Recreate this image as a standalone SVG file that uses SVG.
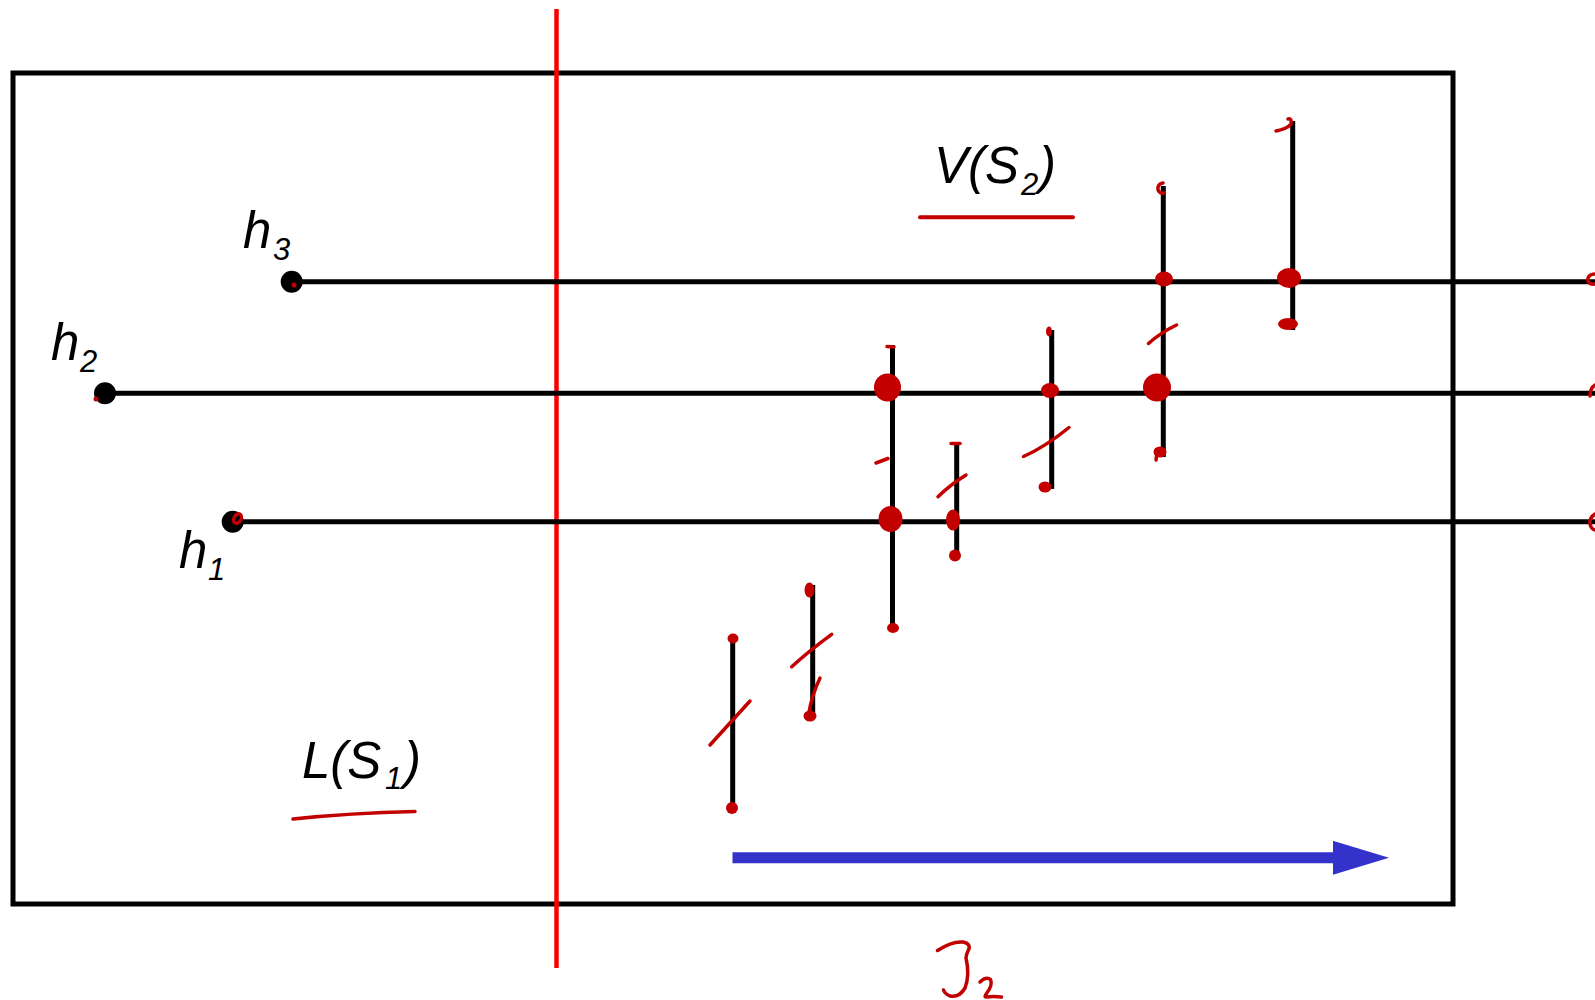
<svg xmlns="http://www.w3.org/2000/svg" width="1595" height="1000" viewBox="0 0 1595 1000">
<style>
.frame{fill:none;stroke:#000;stroke-width:5}
.ln{stroke:#000;stroke-width:5;fill:none}
.seg{stroke:#000;stroke-width:5;fill:none}
.ink{stroke:#C20000;stroke-width:3.5;fill:none;stroke-linecap:round;stroke-linejoin:round}
.blob{fill:#C20000}
.lbl{font-family:"Liberation Sans",Arial,sans-serif;font-style:italic;fill:#000}
.big{font-size:51px}
.sub{font-size:31px}
</style>
<defs>
<marker id="ah" markerWidth="56" markerHeight="34" refX="0" refY="17" orient="auto" markerUnits="userSpaceOnUse">
<path d="M0 0 L56 17 L0 34 Z" fill="#3333CC"/>
</marker>
</defs>
<rect x="0" y="0" width="1595" height="1000" fill="#fff"/>
<g id="frame"><rect class="frame" x="13" y="73" width="1440" height="831"/></g>
<g id="divider"><line x1="556.5" y1="9" x2="556.5" y2="968" stroke="#FF0000" stroke-width="4.5"/></g>
<g id="connectors">
<line class="ln" x1="292" y1="281.7" x2="1595" y2="281.7"/>
<line class="ln" x1="105" y1="393.3" x2="1595" y2="393.3"/>
<line class="ln" x1="233" y1="521.7" x2="1595" y2="521.7"/>
<line x1="732.5" y1="857.8" x2="1333" y2="857.8" stroke="#3333CC" stroke-width="11" marker-end="url(#ah)"/>
</g>
<g id="h3"><circle cx="291.7" cy="281.7" r="11"/><circle class="blob" cx="294" cy="285" r="2.5"/>
<text class="lbl big" x="243" y="248">h</text><text class="lbl sub" x="273" y="260">3</text></g>
<g id="h2"><circle cx="105" cy="393.3" r="11"/><circle class="blob" cx="96" cy="399" r="2.5"/>
<text class="lbl big" x="51" y="360">h</text><text class="lbl sub" x="80" y="372">2</text></g>
<g id="h1"><circle cx="232.7" cy="521.7" r="11"/><ellipse class="ink" cx="237.5" cy="518.5" rx="3.5" ry="5" stroke-width="3" transform="rotate(30 237.5 518.5)"/>
<text class="lbl big" x="179" y="568">h</text><text class="lbl sub" x="208" y="580">1</text></g>
<g id="V-S2"><text class="lbl big" x="934" y="183">V(S</text><text class="lbl sub" x="1021" y="195">2</text><text class="lbl big" x="1039" y="183">)</text>
<line x1="920" y1="217.3" x2="1073" y2="217.3" stroke="#C20000" stroke-width="4" stroke-linecap="round"/></g>
<g id="L-S1"><text class="lbl big" x="302" y="778">L(S</text><text class="lbl sub" x="385" y="789">1</text><text class="lbl big" x="404" y="778">)</text>
<path class="ink" d="M293 819 Q350 813 415 811.5" stroke-width="4"/></g>
<g id="seg-F"><line class="seg" x1="732.7" y1="635" x2="732.7" y2="807" stroke="#222"/>
<ellipse class="blob" cx="733" cy="638.5" rx="5.5" ry="5"/><circle class="blob" cx="732" cy="808" r="6"/>
<path class="ink" d="M710 745 L750 701"/></g>
<g id="seg-G"><line class="seg" x1="812.7" y1="585" x2="812.7" y2="713"/>
<ellipse class="blob" cx="809.5" cy="590" rx="5" ry="7.5"/><ellipse class="blob" cx="810" cy="716" rx="6.5" ry="5.5"/>
<path class="ink" d="M791.7 666.7 Q810 650 831.7 634.3"/><path class="ink" d="M820 678 Q812 695 809 712"/></g>
<g id="seg-A"><line class="seg" x1="892.5" y1="345" x2="892.5" y2="626"/>
<path class="ink" d="M887 346.5 L894 347"/><ellipse class="blob" cx="887.5" cy="387.5" rx="13.5" ry="14"/>
<path class="ink" d="M876 463 L888 458.5"/><ellipse class="blob" cx="890.5" cy="519" rx="12" ry="13"/>
<ellipse class="blob" cx="893" cy="628" rx="6" ry="5"/></g>
<g id="seg-B"><line class="seg" x1="956.7" y1="443.3" x2="956.7" y2="555"/>
<path class="ink" d="M951 443.5 L960 443.5" stroke-width="5"/><path class="ink" d="M938 496.7 Q950 485 966 475"/>
<ellipse class="blob" cx="953" cy="520" rx="7" ry="10.5"/><ellipse class="blob" cx="955" cy="555.5" rx="6" ry="6"/></g>
<g id="seg-C"><line class="seg" x1="1051.7" y1="330" x2="1051.7" y2="489"/>
<ellipse class="blob" cx="1049" cy="331.5" rx="3" ry="5"/><ellipse class="blob" cx="1050" cy="390.5" rx="9" ry="7.5"/>
<path class="ink" d="M1023.5 456.5 Q1045 447 1069 427.5"/><ellipse class="blob" cx="1045" cy="487" rx="6.5" ry="5.5"/></g>
<g id="seg-D"><line class="seg" x1="1163.3" y1="186" x2="1163.3" y2="457"/>
<path class="ink" d="M1163 183 Q1157 184 1158 190 Q1160 194 1164 193"/><ellipse class="blob" cx="1164" cy="279" rx="9" ry="7.5"/>
<path class="ink" d="M1148.5 343.5 Q1160 333 1176.5 325"/><ellipse class="blob" cx="1157" cy="387.5" rx="14" ry="14"/>
<ellipse class="blob" cx="1160" cy="452" rx="6.5" ry="5.5"/><path class="ink" d="M1157 452 L1156 460"/></g>
<g id="seg-E"><line class="seg" x1="1292.7" y1="121" x2="1292.7" y2="330"/>
<path class="ink" d="M1276 131 Q1287 129 1291 124 Q1292 118 1288 119"/>
<ellipse class="blob" cx="1289" cy="278" rx="12" ry="10"/><ellipse class="blob" cx="1288" cy="324" rx="10" ry="6"/></g>
<g id="edge-marks">
<path class="ink" d="M1594 274 Q1587 275 1588 281 Q1590 285 1595 284"/><path class="ink" d="M1595 385 Q1590 388 1590 396"/>
<path class="ink" d="M1595 514 Q1589 518 1590 524 Q1591 529 1595 530"/></g>
<g id="S2-label">
<path class="ink" d="M937.5 950.5 Q952 941 963 942 Q972 944 968 951 Q966 955 966 958 Q970 975 965 988 Q959 998 950 996 Q945 994 943.5 990"/>
<path class="ink" d="M980 982 Q986 976 990.5 979.5 Q993 985 986.5 993.5 Q984 997 986 997 Q994 996 1001.5 997"/></g>
</svg>
